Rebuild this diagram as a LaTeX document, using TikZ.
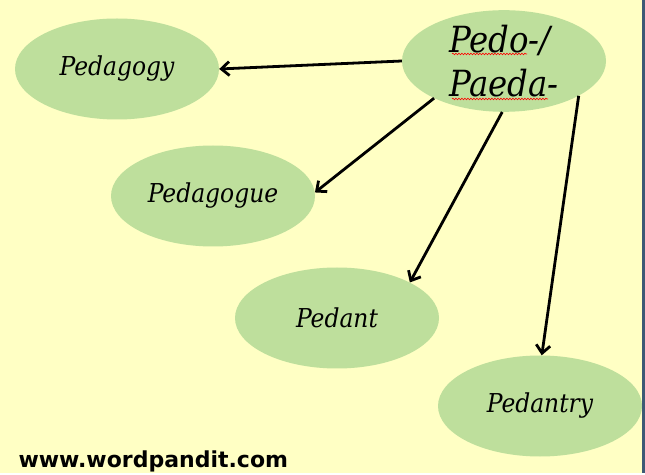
\documentclass[tikz,border=0pt]{standalone}
\usepackage{fontspec}
\setmainfont{DejaVu Serif Condensed}
\newfontfamily\sitefont{DejaVu Sans}
\usetikzlibrary{shapes.geometric,arrows.meta,decorations.pathmorphing}
\definecolor{paper}{HTML}{FFFFC4}
\definecolor{leaf}{HTML}{BEDF9C}
\definecolor{rim}{HTML}{3D5A75}

\begin{document}
\begin{tikzpicture}[x=1pt, y=-1pt,
    word/.style={ellipse, fill=leaf, minimum width=204pt, minimum height=101pt, inner sep=0pt,
      font=\fontsize{26}{30}\selectfont\itshape},
    link/.style={line width=2.8pt, -{Straight Barb[length=8pt,width=14pt]}},
    wavy/.style={red, line width=.6pt, decorate, decoration={snake, amplitude=.8pt, segment length=3pt}}]
            \fill[paper](0, 0)rectangle(645, 473);
            \fill[rim](642, 0)rectangle(645, 473);
            \node[word, font=\fontsize{36}{44}\selectfont\itshape, align=left](pedo) at (504, 61){Pedo-/\\Paeda-};
            \node[word](pedagogy) at (117, 69){Pedagogy};
            \node[word](pedagogue) at (213, 196){Pedagogue};
            \node[word](pedant) at (337, 318){Pedant};
            \node[word](pedantry) at (540, 406){Pedantry};
            \draw[wavy](452, 54)--(527, 54);
            \draw[wavy](452, 99)--(548, 99);
            \draw[link](pedo.west)--(pedagogy.east);
            \draw[link](pedo.208)--(pedagogue.2);
            \draw[link](pedo.268)--(pedant.26);
            \draw[link](pedo.335)--(pedantry.88);
            \node[anchor=base west, font=\sitefont\bfseries\fontsize{22}{26}\selectfont](site) at (15, 467){www.wordpandit.com};
        \end{tikzpicture}
\end{document}
